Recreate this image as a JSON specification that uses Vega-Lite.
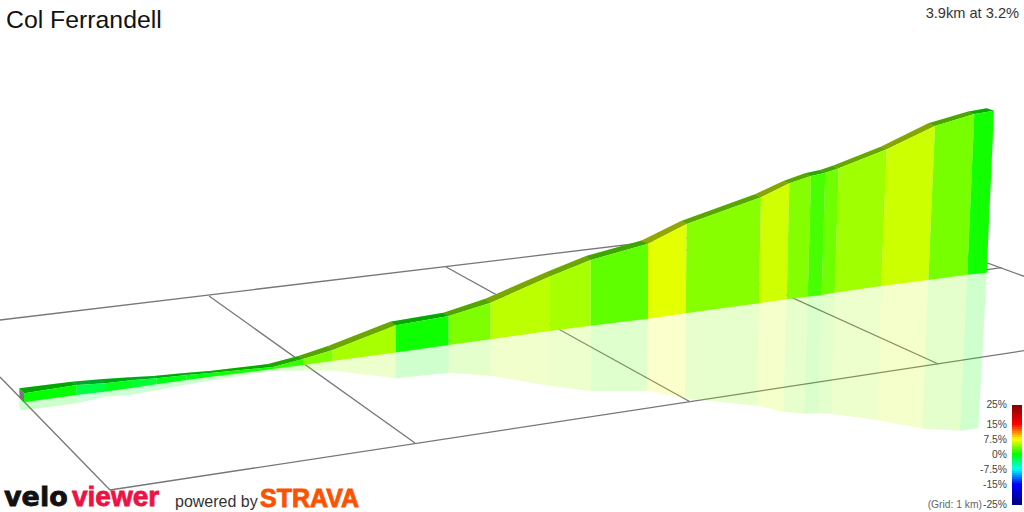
{"$schema":"https://vega.github.io/schema/vega-lite/v6.json","width":1024,"height":512,"padding":0,"autosize":{"type":"none"},"background":"white","config":{"view":{"stroke":null}},
"datasets":{
"grades":[{"s":0,"grade":0},{"s":1,"grade":0.1},{"s":2,"grade":-2},{"s":3,"grade":-0.8},{"s":4,"grade":-1.5},{"s":5,"grade":-0.6},{"s":6,"grade":-0.5},{"s":7,"grade":0.5},{"s":8,"grade":1.5},{"s":9,"grade":3.75},{"s":10,"grade":4.9},{"s":11,"grade":0.4},{"s":12,"grade":3.7},{"s":13,"grade":5.5},{"s":14,"grade":4.9},{"s":15,"grade":2.8},{"s":16,"grade":6.7},{"s":17,"grade":4},{"s":18,"grade":6.1},{"s":19,"grade":3.9},{"s":20,"grade":2.1},{"s":21,"grade":3.3},{"s":22,"grade":4.7},{"s":23,"grade":6},{"s":24,"grade":3.5},{"s":25,"grade":0.5}],
"walls":[
{"s":1,"o":1,"x":24,"y":393.3},{"s":1,"o":2,"x":76.7,"y":385},{"s":1,"o":3,"x":76.7,"y":395},{"s":1,"o":4,"x":24,"y":402.3},
{"s":2,"o":1,"x":76.7,"y":385},{"s":2,"o":2,"x":105,"y":383.3},{"s":2,"o":3,"x":105,"y":391.7},{"s":2,"o":4,"x":76.7,"y":395},
{"s":3,"o":1,"x":105,"y":383.3},{"s":3,"o":2,"x":133.3,"y":380},{"s":3,"o":3,"x":133.3,"y":387.7},{"s":3,"o":4,"x":105,"y":391.7},
{"s":4,"o":1,"x":133.3,"y":380},{"s":4,"o":2,"x":156.7,"y":378.3},{"s":4,"o":3,"x":156.7,"y":384.3},{"s":4,"o":4,"x":133.3,"y":387.7},
{"s":5,"o":1,"x":156.7,"y":378.3},{"s":5,"o":2,"x":186.7,"y":375},{"s":5,"o":3,"x":186.7,"y":380},{"s":5,"o":4,"x":156.7,"y":384.3},
{"s":6,"o":1,"x":186.7,"y":375},{"s":6,"o":2,"x":213,"y":372.7},{"s":6,"o":3,"x":213,"y":376.5},{"s":6,"o":4,"x":186.7,"y":380},
{"s":7,"o":1,"x":213,"y":372.7},{"s":7,"o":2,"x":273,"y":367},{"s":7,"o":3,"x":273,"y":369},{"s":7,"o":4,"x":213,"y":376.5},
{"s":8,"o":1,"x":273,"y":367},{"s":8,"o":2,"x":303,"y":359},{"s":8,"o":3,"x":303,"y":365},{"s":8,"o":4,"x":273,"y":369},
{"s":9,"o":1,"x":303,"y":359},{"s":9,"o":2,"x":332.7,"y":350},{"s":9,"o":3,"x":332.7,"y":361},{"s":9,"o":4,"x":303,"y":365},
{"s":10,"o":1,"x":332.7,"y":350},{"s":10,"o":2,"x":396,"y":325.3},{"s":10,"o":3,"x":396,"y":352.5},{"s":10,"o":4,"x":332.7,"y":361},
{"s":11,"o":1,"x":396,"y":325.3},{"s":11,"o":2,"x":448.7,"y":316},{"s":11,"o":3,"x":448.7,"y":345},{"s":11,"o":4,"x":396,"y":352.5},
{"s":12,"o":1,"x":448.7,"y":316},{"s":12,"o":2,"x":490.7,"y":302.7},{"s":12,"o":3,"x":490.7,"y":339.3},{"s":12,"o":4,"x":448.7,"y":345},
{"s":13,"o":1,"x":490.7,"y":302.7},{"s":13,"o":2,"x":549.3,"y":276.7},{"s":13,"o":3,"x":549.3,"y":331},{"s":13,"o":4,"x":490.7,"y":339.3},
{"s":14,"o":1,"x":549.3,"y":276.7},{"s":14,"o":2,"x":590.7,"y":260},{"s":14,"o":3,"x":590.7,"y":325.7},{"s":14,"o":4,"x":549.3,"y":331},
{"s":15,"o":1,"x":590.7,"y":260},{"s":15,"o":2,"x":648,"y":243.8},{"s":15,"o":3,"x":648,"y":318.8},{"s":15,"o":4,"x":590.7,"y":325.7},
{"s":16,"o":1,"x":648,"y":243.8},{"s":16,"o":2,"x":686.7,"y":224},{"s":16,"o":3,"x":685.7,"y":313.3},{"s":16,"o":4,"x":648,"y":318.8},
{"s":17,"o":1,"x":686.7,"y":224},{"s":17,"o":2,"x":761,"y":197.3},{"s":17,"o":3,"x":759,"y":303.3},{"s":17,"o":4,"x":685.7,"y":313.3},
{"s":18,"o":1,"x":761,"y":197.3},{"s":18,"o":2,"x":789.3,"y":183.3},{"s":18,"o":3,"x":786.7,"y":299.3},{"s":18,"o":4,"x":759,"y":303.3},
{"s":19,"o":1,"x":789.3,"y":183.3},{"s":19,"o":2,"x":811,"y":176},{"s":19,"o":3,"x":807.7,"y":296.7},{"s":19,"o":4,"x":786.7,"y":299.3},
{"s":20,"o":1,"x":811,"y":176},{"s":20,"o":2,"x":825.3,"y":172.7},{"s":20,"o":3,"x":821.7,"y":295},{"s":20,"o":4,"x":807.7,"y":296.7},
{"s":21,"o":1,"x":825.3,"y":172.7},{"s":21,"o":2,"x":838.7,"y":168.3},{"s":21,"o":3,"x":834.7,"y":292.7},{"s":21,"o":4,"x":821.7,"y":295},
{"s":22,"o":1,"x":838.7,"y":168.3},{"s":22,"o":2,"x":886.7,"y":149.3},{"s":22,"o":3,"x":881.3,"y":286},{"s":22,"o":4,"x":834.7,"y":292.7},
{"s":23,"o":1,"x":886.7,"y":149.3},{"s":23,"o":2,"x":935,"y":126},{"s":23,"o":3,"x":928.3,"y":280},{"s":23,"o":4,"x":881.3,"y":286},
{"s":24,"o":1,"x":935,"y":126},{"s":24,"o":2,"x":974.3,"y":114},{"s":24,"o":3,"x":967.3,"y":274.7},{"s":24,"o":4,"x":928.3,"y":280},
{"s":25,"o":1,"x":974.3,"y":114},{"s":25,"o":2,"x":994,"y":110.7},{"s":25,"o":3,"x":986.7,"y":272.7},{"s":25,"o":4,"x":967.3,"y":274.7}
],
"bands":[
{"s":1,"o":1,"x":19.3,"y":388.3},{"s":1,"o":2,"x":71.7,"y":381.7},{"s":1,"o":3,"x":76.7,"y":385},{"s":1,"o":4,"x":24,"y":393.3},
{"s":2,"o":1,"x":71.7,"y":381.7},{"s":2,"o":2,"x":100,"y":379.3},{"s":2,"o":3,"x":105,"y":383.3},{"s":2,"o":4,"x":76.7,"y":385},
{"s":3,"o":1,"x":100,"y":379.3},{"s":3,"o":2,"x":130,"y":377.3},{"s":3,"o":3,"x":133.3,"y":380},{"s":3,"o":4,"x":105,"y":383.3},
{"s":4,"o":1,"x":130,"y":377.3},{"s":4,"o":2,"x":153.3,"y":376},{"s":4,"o":3,"x":156.7,"y":378.3},{"s":4,"o":4,"x":133.3,"y":380},
{"s":5,"o":1,"x":153.3,"y":376},{"s":5,"o":2,"x":181.7,"y":373.3},{"s":5,"o":3,"x":186.7,"y":375},{"s":5,"o":4,"x":156.7,"y":378.3},
{"s":6,"o":1,"x":181.7,"y":373.3},{"s":6,"o":2,"x":209.3,"y":371},{"s":6,"o":3,"x":213,"y":372.7},{"s":6,"o":4,"x":186.7,"y":375},
{"s":7,"o":1,"x":209.3,"y":371},{"s":7,"o":2,"x":268,"y":364},{"s":7,"o":3,"x":273,"y":367},{"s":7,"o":4,"x":213,"y":372.7},
{"s":8,"o":1,"x":268,"y":364},{"s":8,"o":2,"x":298.3,"y":356},{"s":8,"o":3,"x":303,"y":359},{"s":8,"o":4,"x":273,"y":367},
{"s":9,"o":1,"x":298.3,"y":356},{"s":9,"o":2,"x":328,"y":346},{"s":9,"o":3,"x":332.7,"y":350},{"s":9,"o":4,"x":303,"y":359},
{"s":10,"o":1,"x":328,"y":346},{"s":10,"o":2,"x":390,"y":321.7},{"s":10,"o":3,"x":396,"y":325.3},{"s":10,"o":4,"x":332.7,"y":350},
{"s":11,"o":1,"x":390,"y":321.7},{"s":11,"o":2,"x":443.3,"y":312.7},{"s":11,"o":3,"x":448.7,"y":316},{"s":11,"o":4,"x":396,"y":325.3},
{"s":12,"o":1,"x":443.3,"y":312.7},{"s":12,"o":2,"x":485.3,"y":298.7},{"s":12,"o":3,"x":490.7,"y":302.7},{"s":12,"o":4,"x":448.7,"y":316},
{"s":13,"o":1,"x":485.3,"y":298.7},{"s":13,"o":2,"x":546,"y":272.3},{"s":13,"o":3,"x":549.3,"y":276.7},{"s":13,"o":4,"x":490.7,"y":302.7},
{"s":14,"o":1,"x":546,"y":272.3},{"s":14,"o":2,"x":586,"y":256},{"s":14,"o":3,"x":590.7,"y":260},{"s":14,"o":4,"x":549.3,"y":276.7},
{"s":15,"o":1,"x":586,"y":256},{"s":15,"o":2,"x":641.5,"y":240.5},{"s":15,"o":3,"x":648,"y":243.8},{"s":15,"o":4,"x":590.7,"y":260},
{"s":16,"o":1,"x":641.5,"y":240.5},{"s":16,"o":2,"x":681,"y":221},{"s":16,"o":3,"x":686.7,"y":224},{"s":16,"o":4,"x":648,"y":243.8},
{"s":17,"o":1,"x":681,"y":221},{"s":17,"o":2,"x":755,"y":194.3},{"s":17,"o":3,"x":761,"y":197.3},{"s":17,"o":4,"x":686.7,"y":224},
{"s":18,"o":1,"x":755,"y":194.3},{"s":18,"o":2,"x":783.3,"y":181},{"s":18,"o":3,"x":789.3,"y":183.3},{"s":18,"o":4,"x":761,"y":197.3},
{"s":19,"o":1,"x":783.3,"y":181},{"s":19,"o":2,"x":805,"y":173.3},{"s":19,"o":3,"x":811,"y":176},{"s":19,"o":4,"x":789.3,"y":183.3},
{"s":20,"o":1,"x":805,"y":173.3},{"s":20,"o":2,"x":820,"y":170},{"s":20,"o":3,"x":825.3,"y":172.7},{"s":20,"o":4,"x":811,"y":176},
{"s":21,"o":1,"x":820,"y":170},{"s":21,"o":2,"x":832.7,"y":165.7},{"s":21,"o":3,"x":838.7,"y":168.3},{"s":21,"o":4,"x":825.3,"y":172.7},
{"s":22,"o":1,"x":832.7,"y":165.7},{"s":22,"o":2,"x":880.7,"y":146.7},{"s":22,"o":3,"x":886.7,"y":149.3},{"s":22,"o":4,"x":838.7,"y":168.3},
{"s":23,"o":1,"x":880.7,"y":146.7},{"s":23,"o":2,"x":928.3,"y":123.3},{"s":23,"o":3,"x":935,"y":126},{"s":23,"o":4,"x":886.7,"y":149.3},
{"s":24,"o":1,"x":928.3,"y":123.3},{"s":24,"o":2,"x":967.3,"y":111.7},{"s":24,"o":3,"x":974.3,"y":114},{"s":24,"o":4,"x":935,"y":126},
{"s":25,"o":1,"x":967.3,"y":111.7},{"s":25,"o":2,"x":986.7,"y":108.3},{"s":25,"o":3,"x":994,"y":110.7},{"s":25,"o":4,"x":974.3,"y":114}
],
"reflections":[
{"s":0,"o":1,"x":19.5,"y":398},{"s":0,"o":2,"x":24,"y":402.3},{"s":0,"o":3,"x":21,"y":410.5},{"s":0,"o":4,"x":19,"y":405},
{"s":1,"o":1,"x":24,"y":402.3},{"s":1,"o":2,"x":76.7,"y":395},{"s":1,"o":3,"x":76.7,"y":403.3},{"s":1,"o":4,"x":21,"y":410.5},
{"s":2,"o":1,"x":76.7,"y":395},{"s":2,"o":2,"x":105,"y":391.7},{"s":2,"o":3,"x":105,"y":396.7},{"s":2,"o":4,"x":76.7,"y":403.3},
{"s":3,"o":1,"x":105,"y":391.7},{"s":3,"o":2,"x":133.3,"y":387.7},{"s":3,"o":3,"x":133.3,"y":394.5},{"s":3,"o":4,"x":105,"y":396.7},
{"s":4,"o":1,"x":133.3,"y":387.7},{"s":4,"o":2,"x":156.7,"y":384.3},{"s":4,"o":3,"x":156.7,"y":390},{"s":4,"o":4,"x":133.3,"y":394.5},
{"s":5,"o":1,"x":156.7,"y":384.3},{"s":5,"o":2,"x":186.7,"y":380},{"s":5,"o":3,"x":186.7,"y":384.5},{"s":5,"o":4,"x":156.7,"y":390},
{"s":6,"o":1,"x":186.7,"y":380},{"s":6,"o":2,"x":213,"y":376.5},{"s":6,"o":3,"x":213,"y":380},{"s":6,"o":4,"x":186.7,"y":384.5},
{"s":7,"o":1,"x":213,"y":376.5},{"s":7,"o":2,"x":273,"y":369},{"s":7,"o":3,"x":273,"y":371},{"s":7,"o":4,"x":213,"y":380},
{"s":8,"o":1,"x":273,"y":369},{"s":8,"o":2,"x":303,"y":365},{"s":8,"o":3,"x":303,"y":370.5},{"s":8,"o":4,"x":273,"y":371},
{"s":9,"o":1,"x":303,"y":365},{"s":9,"o":2,"x":332.7,"y":361},{"s":9,"o":3,"x":332.7,"y":370.7},{"s":9,"o":4,"x":303,"y":370.5},
{"s":10,"o":1,"x":332.7,"y":361},{"s":10,"o":2,"x":396,"y":352.5},{"s":10,"o":3,"x":396,"y":378.3},{"s":10,"o":4,"x":332.7,"y":370.7},
{"s":11,"o":1,"x":396,"y":352.5},{"s":11,"o":2,"x":448.7,"y":345},{"s":11,"o":3,"x":448.7,"y":372.7},{"s":11,"o":4,"x":396,"y":378.3},
{"s":12,"o":1,"x":448.7,"y":345},{"s":12,"o":2,"x":490.7,"y":339.3},{"s":12,"o":3,"x":490.7,"y":375.7},{"s":12,"o":4,"x":448.7,"y":372.7},
{"s":13,"o":1,"x":490.7,"y":339.3},{"s":13,"o":2,"x":549.3,"y":331},{"s":13,"o":3,"x":549.3,"y":385.7},{"s":13,"o":4,"x":490.7,"y":375.7},
{"s":14,"o":1,"x":549.3,"y":331},{"s":14,"o":2,"x":590.7,"y":325.7},{"s":14,"o":3,"x":590.7,"y":391},{"s":14,"o":4,"x":549.3,"y":385.7},
{"s":15,"o":1,"x":590.7,"y":325.7},{"s":15,"o":2,"x":648,"y":318.8},{"s":15,"o":3,"x":646.7,"y":390.7},{"s":15,"o":4,"x":590.7,"y":391},
{"s":16,"o":1,"x":648,"y":318.8},{"s":16,"o":2,"x":685.7,"y":313.3},{"s":16,"o":3,"x":685,"y":398.3},{"s":16,"o":4,"x":646.7,"y":390.7},
{"s":17,"o":1,"x":685.7,"y":313.3},{"s":17,"o":2,"x":759,"y":303.3},{"s":17,"o":3,"x":756.7,"y":405.7},{"s":17,"o":4,"x":685,"y":398.3},
{"s":18,"o":1,"x":759,"y":303.3},{"s":18,"o":2,"x":786.7,"y":299.3},{"s":18,"o":3,"x":783.3,"y":411.7},{"s":18,"o":4,"x":756.7,"y":405.7},
{"s":19,"o":1,"x":786.7,"y":299.3},{"s":19,"o":2,"x":807.7,"y":296.7},{"s":19,"o":3,"x":804.3,"y":413.7},{"s":19,"o":4,"x":783.3,"y":411.7},
{"s":20,"o":1,"x":807.7,"y":296.7},{"s":20,"o":2,"x":821.7,"y":295},{"s":20,"o":3,"x":817.7,"y":413.3},{"s":20,"o":4,"x":804.3,"y":413.7},
{"s":21,"o":1,"x":821.7,"y":295},{"s":21,"o":2,"x":834.7,"y":292.7},{"s":21,"o":3,"x":830.7,"y":413.7},{"s":21,"o":4,"x":817.7,"y":413.3},
{"s":22,"o":1,"x":834.7,"y":292.7},{"s":22,"o":2,"x":881.3,"y":286},{"s":22,"o":3,"x":876.7,"y":420},{"s":22,"o":4,"x":830.7,"y":413.7},
{"s":23,"o":1,"x":881.3,"y":286},{"s":23,"o":2,"x":928.3,"y":280},{"s":23,"o":3,"x":922.3,"y":428.7},{"s":23,"o":4,"x":876.7,"y":420},
{"s":24,"o":1,"x":928.3,"y":280},{"s":24,"o":2,"x":967.3,"y":274.7},{"s":24,"o":3,"x":960,"y":430.7},{"s":24,"o":4,"x":922.3,"y":428.7},
{"s":25,"o":1,"x":967.3,"y":274.7},{"s":25,"o":2,"x":986.7,"y":272.7},{"s":25,"o":3,"x":978.3,"y":428.3},{"s":25,"o":4,"x":960,"y":430.7}
],
"grid":[
{"l":"far","o":1,"x":0,"y":320},{"l":"far","o":2,"x":700,"y":236},
{"l":"near","o":1,"x":110,"y":490},{"l":"near","o":2,"x":1024,"y":350.7},
{"l":"c1","o":1,"x":0,"y":377},{"l":"c1","o":2,"x":110,"y":490},
{"l":"c2","o":1,"x":209,"y":296},{"l":"c2","o":2,"x":415,"y":443},
{"l":"c3","o":1,"x":445.7,"y":266.7},{"l":"c3","o":2,"x":690,"y":401.7},
{"l":"c4","o":1,"x":665,"y":240},{"l":"c4","o":2,"x":938.3,"y":364},
{"l":"c5","o":1,"x":960,"y":253},{"l":"c5","o":2,"x":1024,"y":276.3},
{"l":"stub","o":1,"x":980,"y":270.6},{"l":"stub","o":2,"x":1001.7,"y":267.7}
],
"colourbar":[
{"grade":-25,"x":1012,"x2":1022,"y":505,"y2":503},{"grade":-24,"x":1012,"x2":1022,"y":503,"y2":501},{"grade":-23,"x":1012,"x2":1022,"y":501,"y2":499},{"grade":-22,"x":1012,"x2":1022,"y":499,"y2":497},{"grade":-21,"x":1012,"x2":1022,"y":497,"y2":495},{"grade":-20,"x":1012,"x2":1022,"y":495,"y2":493},{"grade":-19,"x":1012,"x2":1022,"y":493,"y2":491},{"grade":-18,"x":1012,"x2":1022,"y":491,"y2":489},{"grade":-17,"x":1012,"x2":1022,"y":489,"y2":487},{"grade":-16,"x":1012,"x2":1022,"y":487,"y2":485},{"grade":-15,"x":1012,"x2":1022,"y":485,"y2":483},{"grade":-14,"x":1012,"x2":1022,"y":483,"y2":481},{"grade":-13,"x":1012,"x2":1022,"y":481,"y2":479},{"grade":-12,"x":1012,"x2":1022,"y":479,"y2":477},{"grade":-11,"x":1012,"x2":1022,"y":477,"y2":475},{"grade":-10,"x":1012,"x2":1022,"y":475,"y2":473},{"grade":-9,"x":1012,"x2":1022,"y":473,"y2":471},{"grade":-8,"x":1012,"x2":1022,"y":471,"y2":469},{"grade":-7,"x":1012,"x2":1022,"y":469,"y2":467},{"grade":-6,"x":1012,"x2":1022,"y":467,"y2":465},{"grade":-5,"x":1012,"x2":1022,"y":465,"y2":463},{"grade":-4,"x":1012,"x2":1022,"y":463,"y2":461},{"grade":-3,"x":1012,"x2":1022,"y":461,"y2":459},{"grade":-2,"x":1012,"x2":1022,"y":459,"y2":457},{"grade":-1,"x":1012,"x2":1022,"y":457,"y2":455},{"grade":0,"x":1012,"x2":1022,"y":455,"y2":453},{"grade":1,"x":1012,"x2":1022,"y":453,"y2":451},{"grade":2,"x":1012,"x2":1022,"y":451,"y2":449},{"grade":3,"x":1012,"x2":1022,"y":449,"y2":447},{"grade":4,"x":1012,"x2":1022,"y":447,"y2":445},{"grade":5,"x":1012,"x2":1022,"y":445,"y2":443},{"grade":6,"x":1012,"x2":1022,"y":443,"y2":441},{"grade":7,"x":1012,"x2":1022,"y":441,"y2":439},{"grade":8,"x":1012,"x2":1022,"y":439,"y2":437},{"grade":9,"x":1012,"x2":1022,"y":437,"y2":435},{"grade":10,"x":1012,"x2":1022,"y":435,"y2":433},{"grade":11,"x":1012,"x2":1022,"y":433,"y2":431},{"grade":12,"x":1012,"x2":1022,"y":431,"y2":429},{"grade":13,"x":1012,"x2":1022,"y":429,"y2":427},{"grade":14,"x":1012,"x2":1022,"y":427,"y2":425},{"grade":15,"x":1012,"x2":1022,"y":425,"y2":423},{"grade":16,"x":1012,"x2":1022,"y":423,"y2":421},{"grade":17,"x":1012,"x2":1022,"y":421,"y2":419},{"grade":18,"x":1012,"x2":1022,"y":419,"y2":417},{"grade":19,"x":1012,"x2":1022,"y":417,"y2":415},{"grade":20,"x":1012,"x2":1022,"y":415,"y2":413},{"grade":21,"x":1012,"x2":1022,"y":413,"y2":411},{"grade":22,"x":1012,"x2":1022,"y":411,"y2":409},{"grade":23,"x":1012,"x2":1022,"y":409,"y2":407},{"grade":24,"x":1012,"x2":1022,"y":407,"y2":405}
]
},
"encoding":{
"x":{"field":"x","type":"quantitative","scale":{"domain":[0,1024],"nice":false,"zero":false},"axis":null},
"y":{"field":"y","type":"quantitative","scale":{"domain":[512,0],"nice":false,"zero":false},"axis":null}
},
"layer":[
{"data":{"name":"grid"},"mark":{"type":"line","color":"#777777","strokeWidth":1.3},"encoding":{"detail":{"field":"l"},"order":{"field":"o"}}},
{"data":{"name":"reflections"},"transform":[{"lookup":"s","from":{"data":{"name":"grades"},"key":"s","fields":["grade"]}}],"mark":{"type":"line","filled":true,"opacity":0.2,"strokeWidth":0},"encoding":{"detail":{"field":"s"},"order":{"field":"o"},"color":{"field":"grade","type":"quantitative","legend":null}}},
{"data":{"name":"bands"},"transform":[{"lookup":"s","from":{"data":{"name":"grades"},"key":"s","fields":["grade"]}}],"mark":{"type":"line","filled":true,"strokeWidth":0},"encoding":{"detail":{"field":"s"},"order":{"field":"o"},"color":{"field":"grade","type":"quantitative","legend":null}}},
{"data":{"name":"bands"},"mark":{"type":"line","filled":true,"color":"#000000","opacity":0.35,"strokeWidth":0},"encoding":{"detail":{"field":"s"},"order":{"field":"o"}}},
{"data":{"values":[{"x":19.3,"y":388.3,"o":1},{"x":24,"y":393.3,"o":2},{"x":24,"y":402.3,"o":3},{"x":19.5,"y":398,"o":4}]},"mark":{"type":"line","filled":true,"color":"#777777","strokeWidth":0},"encoding":{"order":{"field":"o"}}},
{"data":{"name":"walls"},"transform":[{"lookup":"s","from":{"data":{"name":"grades"},"key":"s","fields":["grade"]}}],"mark":{"type":"line","filled":true,"strokeWidth":0},"encoding":{"detail":{"field":"s"},"order":{"field":"o"},"color":{"field":"grade","type":"quantitative","legend":null,
"scale":{"type":"linear","domain":[-25,-15,-7.5,0,7.5,15,25],"range":["#000080","#0000ff","#00ffff","#00ff00","#ffff00","#ff0000","#800000"],"interpolate":"rgb"}}}},
{"data":{"name":"colourbar"},"mark":{"type":"rect"},"encoding":{"x":{"field":"x","type":"quantitative"},"x2":{"field":"x2"},"y":{"field":"y","type":"quantitative"},"y2":{"field":"y2"},"color":{"field":"grade","type":"quantitative","legend":null}}},
{"data":{"values":[{"x":1007,"y":405,"t":"25%"},{"x":1007,"y":425,"t":"15%"},{"x":1007,"y":440,"t":"7.5%"},{"x":1007,"y":455,"t":"0%"},{"x":1007,"y":470,"t":"-7.5%"},{"x":1007,"y":485,"t":"-15%"},{"x":1007,"y":505,"t":"-25%"}]},"mark":{"type":"text","align":"right","baseline":"middle","font":"Liberation Sans","fontSize":10.3,"color":"#444444"},"encoding":{"text":{"field":"t"}}},
{"data":{"values":[{"x":6,"y":28,"t":"Col Ferrandell"}]},"mark":{"type":"text","align":"left","baseline":"alphabetic","font":"Liberation Sans","fontSize":24.8,"color":"#111111"},"encoding":{"text":{"field":"t"}}},
{"data":{"values":[{"x":1019,"y":18,"t":"3.9km at 3.2%"}]},"mark":{"type":"text","align":"right","baseline":"alphabetic","font":"Liberation Sans","fontSize":14.6,"color":"#333333"},"encoding":{"text":{"field":"t"}}},
{"data":{"values":[{"x":982,"y":508,"t":"(Grid: 1 km)"}]},"mark":{"type":"text","align":"right","baseline":"alphabetic","font":"Liberation Sans","fontSize":10.3,"color":"#666666"},"encoding":{"text":{"field":"t"}}},
{"data":{"values":[{"x":4,"y":505.5,"t":"velo"}]},"mark":{"type":"text","align":"left","baseline":"alphabetic","font":"DejaVu Sans","fontWeight":"bold","fontSize":27,"color":"#111111","stroke":"#111111","strokeWidth":0.8},"encoding":{"text":{"field":"t"}}},
{"data":{"values":[{"x":72,"y":506,"t":"viewer"}]},"mark":{"type":"text","align":"left","baseline":"alphabetic","font":"Liberation Sans","fontWeight":"bold","fontSize":28,"color":"#ee1144","stroke":"#ee1144","strokeWidth":0.8},"encoding":{"text":{"field":"t"}}},
{"data":{"values":[{"x":175,"y":507,"t":"powered by"}]},"mark":{"type":"text","align":"left","baseline":"alphabetic","font":"Liberation Sans","fontSize":16,"color":"#333333"},"encoding":{"text":{"field":"t"}}},
{"data":{"values":[{"x":260,"y":506.5,"t":"STRAVA"}]},"mark":{"type":"text","align":"left","baseline":"alphabetic","font":"Liberation Sans","fontWeight":"bold","fontSize":25,"color":"#fc5200","stroke":"#fc5200","strokeWidth":0.8},"encoding":{"text":{"field":"t"}}}
]}
